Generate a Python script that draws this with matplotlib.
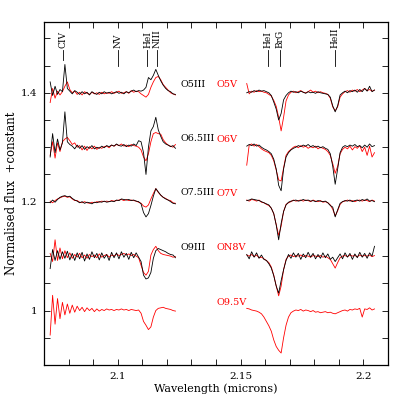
import numpy as np
import matplotlib
matplotlib.use('Agg')
import matplotlib.pyplot as plt
from matplotlib.ticker import MultipleLocator

plt.rcParams['font.family'] = ['DejaVu Serif']

# Rejillas de longitud de onda (micras) de los dos tramos
wl_izq = 2.0725 + 0.001 * np.arange(52)
wl_der = 2.1525 + 0.001 * np.arange(53)

# Desplazamientos (constante sumada)
offsets = [0.4, 0.3, 0.2, 0.1, 0.0]
gigantes = ['O5III', 'O6.5III', 'O7.5III', 'O9III']
enanas = ['O5V', 'O6V', 'O7V', 'ON8V', 'O9.5V']

# Flujo normalizado - 1, en milesimas (tramo izquierdo)
o5iii_l = [20, -5, 12, -3, 6, 2, 52, 8, 3, -2, 4, 1, -3, 2, -2, 1, -4, 2, -1, -3,
           1, -2, 2, -1, 1, -2, 0, 2, -1, 1, -2, 2, 0, 3, 5, 2, 4, 3, 5, 10,
           28, 24, 32, 43, 32, 22, 14, 8, 4, 2, -2, -3]
o65iii_l = [-18, 25, -10, 15, -5, 8, 65, 10, 5, 2, -3, 4, -2, 3, -4, 1, -2, 3, -3, 0,
            -2, 2, -1, 3, 1, 4, 2, 6, 3, 2, 5, 1, 4, 2, 6, 3, 12, 10, -10, -50,
            0, 30, 38, 55, 32, 20, 10, 6, 4, 1, 3, -2]
o75iii_l = [-2, 3, -1, 4, 8, 10, 11, 9, 10, 6, 3, 1, -2, 0, -3, -1, -2, -4, -1, -2,
            0, -1, 1, -1, 0, 1, 0, 3, 2, 5, 4, 3, 4, 2, 3, 1, 0, -4, -20, -28,
            -22, -7, 10, 24, 18, 12, 8, 5, 3, 0, -3, -4]
o9iii_l = [-23, 12, -8, 10, -6, 8, -4, 9, -7, 5, -8, 6, -5, 7, -9, 4, -6, 8, -3, 5,
           -7, 6, -4, 3, -8, 7, -3, 6, -5, 8, -2, 5, -6, 7, -3, 6, -2, -10, -35, -42,
           -40, -30, -4, 10, 14, 12, 10, 8, 5, 3, 2, -3]
o5v_l = [-18, 8, -10, 3, -4, 2, 12, 20, 6, 0, 3, -3, 1, -4, 2, -1, -3, 1, -2, 0,
         -3, 1, -2, 0, -1, 2, -1, 1, 3, -1, 0, 2, -1, 4, 1, 3, 2, -2, -5, -8,
         -3, 10, 20, 28, 30, 24, 15, 10, 5, 0, -2, -4]
o6v_l = [-15, 10, -20, 8, -8, 10, 15, 18, 12, 5, 8, 0, 3, -5, 2, -6, 1, -3, 2, -4,
         0, -2, 1, 2, -1, 4, 2, 5, 3, 6, 2, 4, 1, 5, 3, 2, 0, -5, -18, -25,
         -12, 10, 25, 27, 25, 24, 14, 8, 4, 2, 0, 5]
o7v_l = [1, -2, 2, 5, 7, 9, 10, 8, 9, 5, 2, 2, -1, -2, 0, -2, -3, -1, -2, 0,
         -1, 1, 0, 1, 0, 2, 1, 2, 3, 4, 2, 4, 2, 3, 2, 1, -1, -3, -8, -10,
         -6, 5, 15, 24, 17, 12, 8, 6, 3, 2, -2, -3]
on8v_l = [5, -10, 30, -8, 15, -5, 10, -3, 6, -4, 3, -2, 5, -3, 2, -4, 3, -1, 2, -3,
          4, -2, 1, 3, -2, 2, 0, 4, 1, 3, 5, 2, 4, 1, 3, 0, -3, -17, -30, -35,
          -28, 2, 12, 18, 10, 5, 3, 2, 1, 0, -2, -1]
o95v_l = [-45, 28, -25, 22, -15, 15, -8, 12, -5, 10, -3, 8, 0, 6, -2, 5, 0, 4, -2, 3,
          -1, 2, 0, 3, 1, 2, 0, 2, 1, 3, 1, 2, 0, 2, 1, 0, 1, -5, -20, -27,
          -35, -30, -12, 0, 4, 5, 6, 4, 3, 2, 0, -1]

# Flujo normalizado - 1, en milesimas (tramo derecho)
o5iii_r = [0, 2, 1, 4, 2, 5, 3, 4, 2, 0, -5, -17, -30, -50, -38, -13, -5, 0, 3, 1,
           2, 0, 3, 1, -1, 2, 0, 1, -1, 2, 0, -1, -2, -3, -8, -24, -35, -24, -4, 0,
           3, 0, 4, 2, 5, 1, 6, 2, 8, 3, 12, 2, 5]
o65iii_r = [2, 5, 3, 6, 2, 4, 0, -3, -5, -8, -12, -22, -40, -70, -80, -40, -18, -10, -5, -2,
            0, 3, 1, 4, 2, 5, 1, 3, 0, 2, -1, 1, -2, -4, -12, -35, -68, -40, -10, 0,
            3, 1, 4, 2, 5, 1, 3, -1, 4, 0, 6, 1, 3]
o75iii_r = [2, 3, 5, 4, 3, 2, 0, -2, -4, -6, -12, -22, -43, -70, -40, -18, -6, -1, 1, 2,
            3, 1, 2, 4, 2, 3, 1, 2, 0, 2, 1, 0, 1, -2, -7, -10, -28, -15, -3, 0,
            2, 1, 3, 0, 2, 3, 1, 4, 2, 5, 1, 2, 0]
o9iii_r = [3, -5, 8, -2, 6, -4, 2, -6, -8, -14, -22, -36, -55, -68, -45, -25, -8, 3, -4, 6,
           -2, 5, -6, 4, -3, 7, -2, 5, -5, 3, -4, 6, -3, 4, -6, -2, -10, -3, 4, -5,
           6, -2, 5, -6, 4, -3, 7, -2, 5, -4, 6, 0, 18]
o5v_r = [17, -2, 3, 1, 4, 2, 3, 1, 0, -3, -6, -14, -25, -45, -70, -45, -15, -4, 1, 3,
         0, 2, 4, 1, 0, 2, 5, 1, 3, 0, 2, 0, -1, -3, -10, -26, -33, -26, -8, -2,
         2, 4, 1, 5, 3, 6, 2, 5, 8, 4, 6, 3, 5]
o6v_r = [-33, 4, 6, 2, 5, 1, -3, -6, -8, -10, -15, -25, -42, -60, -62, -38, -15, -8, -4, 0,
         2, -1, 3, 0, 2, -2, 1, -1, 2, -3, 0, -2, -4, -8, -15, -30, -48, -35, -12, -4,
         0, -3, 2, -5, 1, -2, 3, -8, 0, -15, 2, -18, -10]
o7v_r = [3, 1, 4, 3, 1, 3, -1, -2, -5, -7, -12, -22, -42, -62, -45, -18, -5, -2, 0, 3,
         1, 2, 3, 1, 3, 2, 0, 3, 1, 0, 2, -1, 0, -2, -6, -14, -26, -17, -5, 0,
         1, 3, 1, 2, 0, 2, 3, 1, 3, 2, 0, 3, 1]
on8v_r = [2, 0, 3, -1, 2, -3, -2, -5, -8, -12, -20, -35, -55, -73, -55, -25, -6, 0, 2, -1,
          1, 0, 2, -1, 1, 0, -2, 1, 0, -1, 1, -2, 0, -3, -6, -14, -22, -12, -3, 0,
          1, -1, 2, 0, 1, -1, 2, 0, 1, 0, 2, -1, 1]
o95v_r = [4, 3, 1, 0, -1, -3, -6, -12, -20, -28, -38, -54, -66, -73, -78, -50, -27, -12, -4, -1,
          1, 0, 2, -1, 1, 0, -2, 0, -3, -2, -4, -3, -2, -4, -3, -5, -6, -4, -2, 0,
          1, -1, 2, 1, 3, 2, 4, -12, 3, 2, 5, 1, 3]

negras_l = [o5iii_l, o65iii_l, o75iii_l, o9iii_l]
negras_r = [o5iii_r, o65iii_r, o75iii_r, o9iii_r]
rojas_l = [o5v_l, o6v_l, o7v_l, on8v_l, o95v_l]
rojas_r = [o5v_r, o6v_r, o7v_r, on8v_r, o95v_r]

# Lineas identificadas
lineas = ['CIV', 'NV', 'HeI', 'NIII', 'HeI', 'BrG', 'HeII']
lineas_wl = [2.0779, 2.1000, 2.1121, 2.1159, 2.1611, 2.1659, 2.1885]

fig = plt.figure(figsize=(4.09, 4.09), dpi=100)
ax = fig.add_axes([0.1076, 0.1076, 0.8411, 0.8386])

for i, off in enumerate(offsets):
    ax.plot(wl_izq, 1 + off + np.array(rojas_l[i]) / 1000, color='red', lw=0.6)
    ax.plot(wl_der, 1 + off + np.array(rojas_r[i]) / 1000, color='red', lw=0.6)
    ax.text(2.1403, 1 + off + 0.015, enanas[i], color='red', fontsize=7,
            ha='left', va='center')
for i in range(4):
    off = offsets[i]
    ax.plot(wl_izq, 1 + off + np.array(negras_l[i]) / 1000, color='black', lw=0.6)
    ax.plot(wl_der, 1 + off + np.array(negras_r[i]) / 1000, color='black', lw=0.6)
    ax.text(2.1254, 1 + off + 0.016, gigantes[i], color='black', fontsize=6.8,
            ha='left', va='center')

for nombre, w in zip(lineas, lineas_wl):
    y0 = 1.461 if nombre == 'CIV' else 1.450
    ax.plot([w, w], [y0, 1.478], color='black', lw=0.6)
    ax.text(w, 1.483, nombre, rotation=90, fontsize=6.5, ha='center', va='bottom')

ax.set_xlim(2.070, 2.210)
ax.set_ylim(0.9, 1.53)
ax.xaxis.set_major_locator(MultipleLocator(0.05))
ax.xaxis.set_minor_locator(MultipleLocator(0.01))
ax.yaxis.set_major_locator(MultipleLocator(0.2))
ax.yaxis.set_minor_locator(MultipleLocator(0.05))
ax.set_xticks([2.1, 2.15, 2.2])
ax.set_xticklabels(['2.1', '2.15', '2.2'])
ax.set_yticks([1.0, 1.2, 1.4])
ax.set_yticklabels(['1', '1.2', '1.4'])
ax.tick_params(which='both', direction='in', top=True, right=True, labelsize=7.5,
               width=0.6, pad=5)
ax.tick_params(which='major', length=4)
ax.tick_params(which='minor', length=4)
for s in ax.spines.values():
    s.set_linewidth(0.9)

ax.set_xlabel('Wavelength (microns)', fontsize=8)
ax.set_ylabel('Normalised flux  +constant', fontsize=8.5)
ax.xaxis.set_label_coords(0.5, -0.055)
ax.yaxis.set_label_coords(-0.075, 0.5)

fig.savefig('out.png', dpi=100)
